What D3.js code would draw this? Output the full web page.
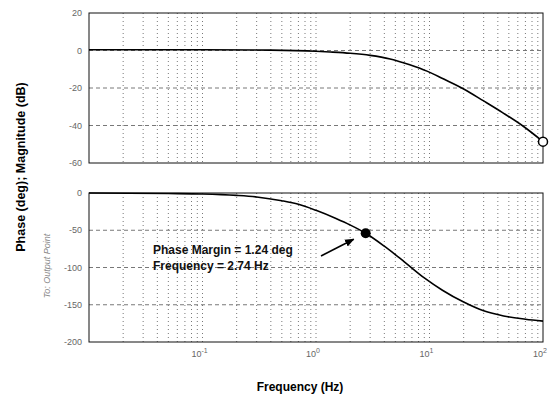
<!DOCTYPE html>
<html>
<head>
<meta charset="utf-8">
<script src="https://cdn.jsdelivr.net/npm/d3@7"></script>
<style>
  body { margin: 0; background: #fff; }
  svg { display: block; font-family: "Liberation Sans", Arial, sans-serif; }
</style>
</head>
<body>
<div id="chart"></div>
<script>
// bode plot: magnitude (dB) on top, phase (deg) below, shared log frequency axis
const magFreq = [0.01, 0.1, 0.4, 1, 1.33, 2, 3, 4.5, 6.7, 9.5, 13.2, 20, 30, 44, 67, 100];
const magDb = [0.4, 0.4, 0.2, -0.4, -0.8, -1.5, -2.6, -4.5, -7.6, -11, -15.1, -20.5, -26.9, -33.1, -40.4, -48.6];

const phaseFreq = [0.01, 0.05, 0.1, 0.2, 0.3, 0.5, 0.7, 1, 1.5, 2, 2.74, 4, 6, 9, 13, 20, 30, 45, 70, 100];
const phaseDeg = [0, -0.7, -1.3, -3.2, -5.3, -10.4, -15.2, -23.3, -34.3, -43, -54, -71.4, -92.4, -114, -130.5, -146.4, -158.2, -165.1, -169.4, -172];

const magTicks = [20, 0, -20, -40, -60];
const phaseTicks = [0, -50, -100, -150, -200];
const freqTicks = [0.1, 1, 10, 100];

const marginPoint = { freq: 2.74, phase: -54 };
const marginText = ["Phase Margin = 1.24 deg", "Frequency = 2.74 Hz"];

const W = 553, H = 399;
const left = 89, right = 543;

const svg = d3.select("#chart").append("svg")
    .attr("width", W)
    .attr("height", H);

const x = d3.scaleLog().domain([0.01, 100]).range([left, right]);
const yMag = d3.scaleLinear().domain([-60, 20]).range([163, 13]);
const yPh = d3.scaleLinear().domain([-200, 0]).range([342, 193]);

// every 1..9 x 10^k between the edges
const gridFreqs = [];
for (let k = -2; k <= 1; k++) {
    for (let m = 1; m <= 9; m++) {
        const f = m * Math.pow(10, k);
        if (f > 0.01 && f < 100) gridFreqs.push(f);
    }
}

function panel(y, ticks) {
    const g = svg.append("g");
    const [y0, y1] = y.range();

    g.selectAll("line.vg").data(gridFreqs).join("line")
        .attr("x1", d => x(d)).attr("x2", d => x(d))
        .attr("y1", y1).attr("y2", y0)
        .attr("stroke", "#555").attr("stroke-width", 0.8)
        .attr("stroke-dasharray", "1,3");

    g.selectAll("line.hg").data(ticks.filter(t => y(t) > y1 + 1 && y(t) < y0 - 1)).join("line")
        .attr("x1", left).attr("x2", right)
        .attr("y1", d => y(d)).attr("y2", d => y(d))
        .attr("stroke", "#555").attr("stroke-width", 0.8)
        .attr("stroke-dasharray", "4,3");

    g.append("rect")
        .attr("x", left).attr("y", y1)
        .attr("width", right - left).attr("height", y0 - y1)
        .attr("fill", "none").attr("stroke", "#111").attr("stroke-width", 1);

    g.selectAll("text.yt").data(ticks).join("text")
        .attr("x", 82).attr("y", d => y(d) + 3)
        .attr("text-anchor", "end")
        .attr("font-size", 9).attr("fill", "#666")
        .text(d => d);
    return g;
}

panel(yMag, magTicks);
panel(yPh, phaseTicks);

const magLine = d3.line()
    .x((d, i) => x(magFreq[i]))
    .y(d => yMag(d))
    .curve(d3.curveMonotoneX);

svg.append("path").datum(magDb)
    .attr("d", magLine)
    .attr("fill", "none").attr("stroke", "#000").attr("stroke-width", 1.6);

svg.append("circle")
    .attr("cx", x(magFreq[magFreq.length - 1]))
    .attr("cy", yMag(magDb[magDb.length - 1]))
    .attr("r", 4.5)
    .attr("fill", "#fff").attr("stroke", "#000").attr("stroke-width", 1.5);

const phLine = d3.line()
    .x((d, i) => x(phaseFreq[i]))
    .y(d => yPh(d))
    .curve(d3.curveMonotoneX);

svg.append("path").datum(phaseDeg)
    .attr("d", phLine)
    .attr("fill", "none").attr("stroke", "#000").attr("stroke-width", 1.6);

// phase margin marker + annotation
const px = x(marginPoint.freq), py = yPh(marginPoint.phase);
svg.append("circle")
    .attr("cx", px).attr("cy", py).attr("r", 5)
    .attr("fill", "#000");

svg.append("defs").append("marker")
    .attr("id", "arrow")
    .attr("viewBox", "0 0 10 10")
    .attr("refX", 9).attr("refY", 5)
    .attr("markerWidth", 6).attr("markerHeight", 6)
    .attr("orient", "auto")
    .append("path").attr("d", "M0,1L10,5L0,9z").attr("fill", "#000");

svg.append("line")
    .attr("x1", 321).attr("y1", 256)
    .attr("x2", px - 12).attr("y2", py + 6)
    .attr("stroke", "#000").attr("stroke-width", 1.6)
    .attr("marker-end", "url(#arrow)");

svg.selectAll("text.ann").data(marginText).join("text")
    .attr("x", 153).attr("y", (d, i) => 254 + i * 16)
    .attr("font-size", 12).attr("font-weight", "bold")
    .attr("fill", "#111")
    .text(d => d);

// x tick labels 10^k
const xt = svg.selectAll("text.xt").data(freqTicks).join("text")
    .attr("x", d => x(d) - 3).attr("y", 357)
    .attr("text-anchor", "middle")
    .attr("font-size", 9).attr("fill", "#666");
xt.append("tspan").text("10");
xt.append("tspan")
    .attr("dy", -4).attr("font-size", 7)
    .text(d => Math.round(Math.log10(d)));

// axis titles
svg.append("text")
    .attr("x", 300).attr("y", 391)
    .attr("text-anchor", "middle")
    .attr("font-size", 12).attr("font-weight", "bold")
    .text("Frequency (Hz)");

svg.append("text")
    .attr("transform", "translate(25,167) rotate(-90)")
    .attr("text-anchor", "middle")
    .attr("font-size", 12.5).attr("font-weight", "bold")
    .text("Phase (deg); Magnitude (dB)");

svg.append("text")
    .attr("transform", "translate(50,266) rotate(-90)")
    .attr("text-anchor", "middle")
    .attr("font-size", 9).attr("font-style", "italic").attr("fill", "#888")
    .text("To: Output Point");
</script>
</body>
</html>
